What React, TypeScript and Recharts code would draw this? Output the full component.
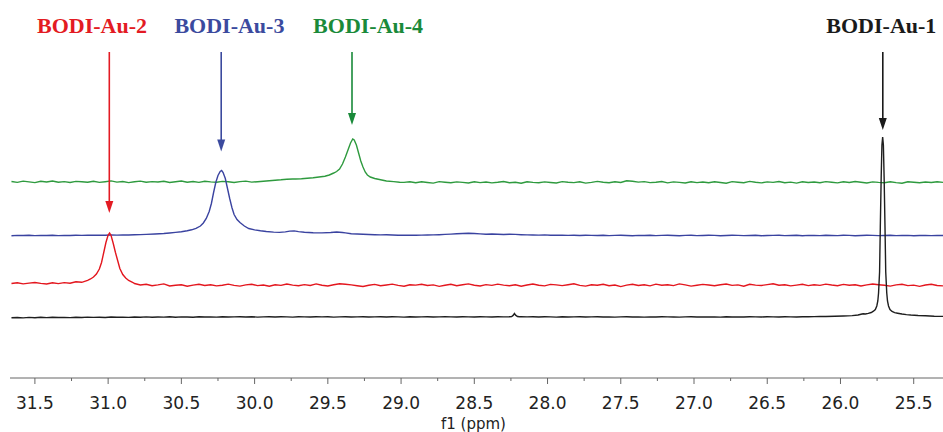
import React from 'react';
import { LineChart, Line, XAxis, YAxis, ReferenceLine, ReferenceDot, Label } from 'recharts';

// Shared chemical-shift sampling grid (ppm), 0.04 ppm steps
const GRID_PPM = [
  31.66, 31.62, 31.58, 31.54, 31.50, 31.46, 31.42, 31.38, 31.34, 31.30,
  31.26, 31.22, 31.18, 31.14, 31.10, 31.06, 31.02, 30.98, 30.94, 30.90,
  30.86, 30.82, 30.78, 30.74, 30.70, 30.66, 30.62, 30.58, 30.54, 30.50,
  30.46, 30.42, 30.38, 30.34, 30.30, 30.26, 30.22, 30.18, 30.14, 30.10,
  30.06, 30.02, 29.98, 29.94, 29.90, 29.86, 29.82, 29.78, 29.74, 29.70,
  29.66, 29.62, 29.58, 29.54, 29.50, 29.46, 29.42, 29.38, 29.34, 29.30,
  29.26, 29.22, 29.18, 29.14, 29.10, 29.06, 29.02, 28.98, 28.94, 28.90,
  28.86, 28.82, 28.78, 28.74, 28.70, 28.66, 28.62, 28.58, 28.54, 28.50,
  28.46, 28.42, 28.38, 28.34, 28.30, 28.26, 28.22, 28.18, 28.14, 28.10,
  28.06, 28.02, 27.98, 27.94, 27.90, 27.86, 27.82, 27.78, 27.74, 27.70,
  27.66, 27.62, 27.58, 27.54, 27.50, 27.46, 27.42, 27.38, 27.34, 27.30,
  27.26, 27.22, 27.18, 27.14, 27.10, 27.06, 27.02, 26.98, 26.94, 26.90,
  26.86, 26.82, 26.78, 26.74, 26.70, 26.66, 26.62, 26.58, 26.54, 26.50,
  26.46, 26.42, 26.38, 26.34, 26.30, 26.26, 26.22, 26.18, 26.14, 26.10,
  26.06, 26.02, 25.98, 25.94, 25.90, 25.86, 25.82, 25.78, 25.74, 25.70,
  25.66, 25.62, 25.58, 25.54, 25.50, 25.46, 25.42, 25.38, 25.34, 25.30,
];

// BODI-Au-2 (red) baseline intensities on the grid
const RED_BASE = [
  1.0, 1.8, 0.6, 1.4, 2.0, 1.1, 0.5, 1.7, 0.9, 1.9,
  1.3, 2.8, 2.2, 4.2, 7, 15, 38, 48, 24, 9,
  3.5, 1.0, -0.5, 0.3, -1.2, -0.4, 0.6, -1.5, -0.8, -0.2,
  -1.8, -0.6, 0.2, -1.0, -0.3, -1.4, -0.7, 0.4, -0.9, -1.6,
  -0.4, 0.3, -1.1, -0.5, -1.8, -0.2, -0.9, 0.5, -0.6, -1.3,
  -0.1, -1.0, 0.6, -0.7, -1.5, -0.3, 0.8, 0.2, -0.4, -1.2,
  -2.0, -0.8, 0.1, -1.3, -0.5, 0.4, -0.9, -1.7, -0.2, -0.6,
  0.3, -1.0, -0.4, -1.9, -0.7, 0.2, -1.2, -0.3, 0.6, -0.8,
  -1.5, -0.1, -0.9, 0.4, -0.6, -1.3, -0.2, -1.8, -0.5, 0.5,
  -0.7, -1.4, 0.1, -0.4, -1.1, -0.2, 0.7, -0.9, -1.6, -0.3,
  -0.8, 0.3, -1.2, -0.5, -2.1, -0.6, 0.2, -1.0, -0.3, -1.4,
  0.4, -0.7, -0.2, -1.1, 0.6, -0.4, -1.6, -0.8, 0.1, -0.5,
  -1.3, -0.2, 0.5, -0.9, -0.4, -1.7, 0.2, -0.6, -1.0, -0.1,
  0.7, -0.8, -0.3, -1.4, -0.6, 0.3, -1.1, -0.2, -0.9, 0.4,
  -0.5, -1.2, 0.1, -0.7, -0.3, -1.5, -0.4, 0.5, -0.2, -0.8,
  -1.6, -0.4, 0.2, -1.1, -0.6, -1.9, -0.5, 0.3, -1.0, -1.4,
];
const RED_PEAK: [number, number][] = [
  [31.12, 5.5], [31.10, 7.5], [31.08, 10.5], [31.06, 15.5], [31.045, 22], [31.03, 32],
  [31.015, 42], [31.0, 49.5], [30.99, 51.5], [30.98, 49], [30.965, 41], [30.95, 32],
  [30.935, 24], [30.92, 16], [30.90, 10], [30.88, 6.5], [30.86, 4], [30.83, 2],
];

// BODI-Au-3 (blue)
const BLUE_BASE = [
  -0.2, 0.1, 0.0, 0.2, -0.1, 0.1, 0.0, 0.2, -0.1, 0.1,
  0.0, 0.2, 0.1, 0.3, 0.2, 0.4, 0.3, 0.5, 0.4, 0.5,
  0.5, 0.7, 0.9, 1.1, 1.3, 1.6, 2.0, 2.5, 3.1, 3.8,
  4.7, 5.7, 8, 13, 22, 45, 64, 50, 28, 13,
  9, 6.5, 5, 4, 3.5, 3.2, 3.0, 3.5, 4.4, 4.0,
  3.0, 2.6, 2.5, 2.5, 2.8, 3.3, 3.4, 2.6, 1.8, 1.5,
  1.3, 1.0, 0.8, 0.6, 0.7, 0.5, 0.3, 0.4, 0.2, 0.3,
  0.4, 0.5, 0.6, 0.8, 1.1, 1.4, 1.7, 2.0, 2.2, 2.0,
  1.6, 1.3, 1.5, 1.2, 1.0, 1.3, 1.1, 0.8, 0.6, 0.5,
  0.4, 0.6, 0.3, 0.2, 0.4, 0.1, 0.3, 0.0, 0.2, 0.1,
  0.0, 0.2, -0.1, 0.1, 0.3, 0.0, -0.2, 0.1, 0.0, 0.2,
  -0.1, 0.1, 0.3, 0.0, -0.2, 0.1, 0.2, -0.1, 0.0, 0.2,
  0.1, -0.2, 0.0, 0.3, 0.1, -0.1, 0.0, 0.2, -0.2, 0.0,
  0.1, 0.3, -0.1, 0.0, 0.2, -0.2, 0.1, 0.0, -0.1, 0.2,
  0.0, -0.1, 0.2, 0.1, -0.2, 0.0, 0.3, 0.1, -0.1, 0.0,
  0.2, -0.1, 0.0, 0.1, -0.2, 0.0, 0.1, -0.1, 0.0, 0.0,
];
const BLUE_PEAK: [number, number][] = [
  [30.74, 1.1], [30.68, 1.5], [30.62, 2.0], [30.58, 2.5], [30.54, 3.1], [30.50, 3.8],
  [30.46, 4.7], [30.43, 5.7], [30.40, 7.2], [30.37, 9.5], [30.35, 12.5], [30.33, 17],
  [30.31, 24], [30.295, 32], [30.28, 43], [30.265, 53], [30.25, 60], [30.235, 64],
  [30.225, 65], [30.215, 63], [30.20, 57], [30.185, 47], [30.17, 37], [30.155, 28],
  [30.14, 21], [30.12, 16], [30.10, 13], [30.07, 9.5], [30.04, 7], [30.00, 5.6],
  [29.96, 4.7], [29.92, 4.0], [29.87, 3.4], [29.83, 3.1], [29.79, 3.6], [29.76, 4.4],
  [29.73, 4.6], [29.70, 3.9], [29.66, 3.2], [29.60, 2.8], [29.54, 2.6], [29.48, 3.0],
  [29.44, 3.5], [29.40, 3.0],
];

// BODI-Au-4 (green)
const GREEN_BASE = [
  0.5, -0.4, 0.9, 0.1, -0.6, 0.7, 0.0, 1.0, -0.3, 0.4,
  -0.5, 0.6, 0.2, -0.2, 0.8, -0.4, 0.3, 1.1, -0.1, 0.5,
  -0.6, 0.2, 0.9, -0.3, 0.4, 0.0, 0.7, -0.5, 0.3, 1.0,
  -0.2, 0.5, -0.4, 0.8, 0.1, -0.3, 0.6, 0.2, -0.5, 0.4,
  0.9, -0.1, 0.3, 0.7, 1.2, 1.8, 2.2, 2.8, 3.0, 3.2,
  3.5, 4, 5, 6, 7, 9, 14, 24, 40, 38,
  17, 6, 3.5, 2, 1, 0.3, -0.2, -0.4, 0.3, -0.8,
  0.2, -0.5, -1.1, 0.4, -0.2, -0.7, 0.1, -0.4, -1.0, 0.3,
  -0.6, 0.0, -0.9, -0.3, 0.5, -0.7, -0.2, -1.2, 0.2, -0.4,
  -0.8, 0.1, -0.5, -1.0, 0.4, -0.3, -0.6, 0.2, -1.1, -0.4,
  0.6, -0.2, -0.8, 0.3, -0.5, 1.2, 0.8, -0.1, 0.4, -0.6,
  -0.3, 0.5, -0.9, 0.1, -0.4, -1.0, 0.3, -0.6, 0.0, -0.8,
  0.2, -0.5, -1.2, 0.4, -0.2, -0.7, 0.6, -0.3, -0.9, 0.1,
  -0.4, 0.5, -0.8, -0.1, -1.1, 0.3, -0.5, 0.0, -0.7, 0.4,
  -0.2, -0.9, 0.2, -0.5, 0.5, -0.3, -1.0, 0.1, -0.4, -0.7,
  0.3, -0.6, -1.2, 0.2, -0.3, -0.8, 0.0, -0.5, 0.2, -0.4,
];
const GREEN_PEAK: [number, number][] = [
  [29.72, 3.0], [29.68, 3.3], [29.64, 3.8], [29.60, 4.2], [29.56, 5.0], [29.52, 5.8],
  [29.49, 7.0], [29.46, 9.0], [29.44, 10.5], [29.42, 13], [29.40, 18], [29.38, 25],
  [29.36, 33], [29.345, 39], [29.33, 43], [29.32, 42], [29.305, 37], [29.29, 29],
  [29.275, 21], [29.26, 15], [29.245, 10], [29.23, 7], [29.21, 5], [29.18, 3.5],
  [29.14, 2.2], [29.10, 1.0], [29.05, 0.4], [29.01, -0.2],
];

// BODI-Au-1 (black)
const BLACK_BASE = [
  -0.8, -0.5, -0.9, -0.4, -0.7, -0.3, -0.6, -0.2, -0.5, -0.4,
  -0.6, -0.3, -0.5, -0.1, -0.4, -0.2, -0.5, 0.0, -0.3, -0.1,
  -0.4, 0.0, -0.2, 0.1, -0.3, 0.0, -0.1, 0.2, -0.2, 0.1,
  0.0, -0.2, 0.2, 0.0, 0.1, -0.1, 0.2, 0.0, 0.1, 0.3,
  0.0, 0.2, -0.1, 0.1, 0.3, 0.0, 0.2, 0.1, -0.1, 0.2,
  0.1, 0.0, 0.3, 0.1, 0.2, -0.1, 0.1, 0.2, 0.0, 0.1,
  0.2, 0.0, 0.1, 0.3, 0.0, 0.2, 0.1, -0.1, 0.2, 0.0,
  0.1, 0.2, 0.0, 0.1, 0.3, 0.1, 0.0, 0.2, 0.1, 0.0,
  0.2, 0.1, 0.0, 0.3, 0.1, 0.2, 3.0, 0.3, 0.1, 0.2,
  0.0, 0.2, 0.1, -0.1, 0.2, 0.0, 0.1, 0.2, 0.0, 0.1,
  0.2, 0.0, 0.1, -0.1, 0.1, 0.2, 0.0, 0.1, -0.1, 0.1,
  0.0, 0.2, 0.1, 0.0, -0.1, 0.1, 0.2, 0.0, 0.1, 0.0,
  0.1, -0.1, 0.2, 0.0, 0.1, 0.0, 0.2, 0.1, 0.0, 0.2,
  0.1, 0.0, 0.2, 0.1, 0.0, 0.3, 0.2, 0.4, 0.5, 0.5,
  0.7, 0.8, 1.0, 1.3, 1.6, 2.4, 3.6, 5.5, 12, 170,
  7, 4.5, 3.4, 2.5, 1.8, 1.4, 1.1, 0.8, 0.5, 0.4,
];
const BLACK_BUMP: [number, number][] = [
  [28.26, 0.2], [28.245, 0.5], [28.235, 1.6], [28.226, 3.5], [28.218, 1.8], [28.205, 0.5], [28.19, 0.2],
];
const BLACK_PEAK: [number, number][] = [
  [26.10, 0.5], [26.04, 0.7], [25.98, 1.0], [25.92, 1.4], [25.88, 2.0], [25.86, 2.8],
  [25.845, 3.2], [25.83, 3.0], [25.81, 3.6], [25.79, 4.5], [25.775, 5.8], [25.762, 7.5],
  [25.752, 11], [25.745, 16], [25.74, 24], [25.733, 45], [25.728, 90], [25.722, 140],
  [25.717, 172], [25.712, 180], [25.707, 172], [25.702, 140], [25.696, 90], [25.691, 45],
  [25.684, 24], [25.679, 16], [25.672, 11], [25.662, 7.5], [25.648, 5.5], [25.63, 4.4],
  [25.61, 3.8], [25.58, 3.0], [25.55, 2.4], [25.52, 2.0], [25.47, 1.5], [25.42, 1.2],
  [25.36, 0.8], [25.30, 0.6],
];

const MAJOR_TICKS = [31.5, 31.0, 30.5, 30.0, 29.5, 29.0, 28.5, 28.0, 27.5, 27.0, 26.5, 26.0, 25.5];
const TICK_LABELS = ['31.5', '31.0', '30.5', '30.0', '29.5', '29.0', '28.5', '28.0', '27.5', '27.0', '26.5', '26.0', '25.5'];
const MINOR_TICKS = [31.25, 30.75, 30.25, 29.75, 29.25, 28.75, 28.25, 27.75, 27.25, 26.75, 26.25, 25.75];

const SERIES_NAMES = ['BODI-Au-1', 'BODI-Au-2', 'BODI-Au-3', 'BODI-Au-4'];

// ---------- layout / style ----------
const W = 943;
const H = 432;
const AXIS_H = 54;
const Y_MAX = H - AXIS_H; // plot height in px, 1 unit = 1 px

const build = (base: number[], details: [number, number][][], offset: number) => {
  const ranges = details.map((d) => [Math.min(...d.map((p) => p[0])), Math.max(...d.map((p) => p[0]))]);
  const pts: [number, number][] = [];
  const n = Math.min(GRID_PPM.length, base.length);
  for (let i = 0; i < n; i++) {
    const p = GRID_PPM[i];
    if (ranges.some(([lo, hi]) => p >= lo - 1e-9 && p <= hi + 1e-9)) continue;
    pts.push([p, base[i]]);
  }
  details.forEach((d) => d.forEach((p) => pts.push(p)));
  pts.sort((a, b) => b[0] - a[0]);
  return pts.map(([ppm, v]) => ({ ppm, v: offset + v }));
};

const maxOf = (d: [number, number][]) => Math.max(...d.map((p) => p[1]));

const TRACES = [
  { key: 'green', name: SERIES_NAMES[3], color: '#2e9a3e', labelColor: '#1a8a3a', offset: 196, base: GREEN_BASE, details: [GREEN_PEAK], peak: GREEN_PEAK, arrowPpm: 29.335, gap: 14, labelPpm: 29.225 },
  { key: 'blue', name: SERIES_NAMES[2], color: '#3a43a0', labelColor: '#3b4a9e', offset: 142.5, base: BLUE_BASE, details: [BLUE_PEAK], peak: BLUE_PEAK, arrowPpm: 30.228, gap: 19, labelPpm: 30.172 },
  { key: 'red', name: SERIES_NAMES[1], color: '#e3161e', labelColor: '#e31b23', offset: 93.5, base: RED_BASE, details: [RED_PEAK], peak: RED_PEAK, arrowPpm: 30.992, gap: 20, labelPpm: 31.11 },
  { key: 'black', name: SERIES_NAMES[0], color: '#1e1e1e', labelColor: '#1a1a1a', offset: 61, base: BLACK_BASE, details: [BLACK_BUMP, BLACK_PEAK], peak: BLACK_PEAK, arrowPpm: 25.711, gap: 7, labelPpm: 25.721 },
];

const ARROW_TOP = Y_MAX - 52;
const LABEL_Y = Y_MAX - 33;

const Tick = (props: any) => {
  const { x, y, payload } = props;
  const v = payload.value;
  const idx = MAJOR_TICKS.findIndex((m) => Math.abs(m - v) < 1e-6);
  const major = idx >= 0;
  return (
    <g>
      <line x1={x} y1={y} x2={x} y2={y + (major ? 6 : 3)} stroke="#666" strokeWidth={1} />
      {major && (
        <text x={x} y={y + 31} textAnchor="middle" fontFamily="'DejaVu Sans', Verdana, sans-serif" fontSize={17} fill="#222">
          {TICK_LABELS[idx]}
        </text>
      )}
    </g>
  );
};

const arrowShape = (color: string) => (p: any) => {
  const x = p.x1;
  const top = Math.min(p.y1, p.y2);
  const tip = Math.max(p.y1, p.y2);
  return (
    <g>
      <line x1={x} y1={top} x2={x} y2={tip - 8} stroke={color} strokeWidth={1.6} />
      <polygon points={`${x - 4},${tip - 12} ${x + 4},${tip - 12} ${x},${tip}`} fill={color} />
    </g>
  );
};

const labelShape = (text: string, color: string) => (p: any) => (
  <text
    x={p.cx}
    y={p.cy}
    textAnchor="middle"
    fontFamily="'Liberation Serif', 'Times New Roman', serif"
    fontWeight="bold"
    fontSize={22}
    fill={color}
  >
    {text}
  </text>
);

export default function App() {
  const series = TRACES.map((t) => ({ ...t, data: build(t.base, t.details, t.offset) }));
  return (
    <div style={{ position: 'absolute', left: 0, top: 0, width: W, height: H, background: '#fff' }}>
      <LineChart width={W} height={H} margin={{ top: 0, right: 0, bottom: 0, left: 10 }}>
        <XAxis
          type="number"
          dataKey="ppm"
          domain={[25.3, 31.67]}
          reversed
          allowDataOverflow
          ticks={[...MAJOR_TICKS, ...MINOR_TICKS].sort((a, b) => b - a)}
          interval={0}
          tick={<Tick />}
          tickLine={false}
          tickSize={0}
          tickMargin={0}
          height={AXIS_H}
          axisLine={{ stroke: '#666', strokeWidth: 1 }}
        >
          <Label
            value="f1 (ppm)"
            position="insideBottom"
            offset={3.5}
            dx={-3}
            fill="#222"
            fontSize={15}
            fontFamily="'DejaVu Sans', Verdana, sans-serif"
          />
        </XAxis>
        <YAxis hide type="number" domain={[0, Y_MAX]} allowDataOverflow width={0} />
        {series.map((s) => (
          <Line
            key={s.key}
            data={s.data}
            dataKey="v"
            type="linear"
            stroke={s.color}
            strokeWidth={1.4}
            dot={false}
            activeDot={false}
            isAnimationActive={false}
          />
        ))}
        {series.map((s) => (
          <ReferenceLine
            key={'a' + s.key}
            segment={[
              { x: s.arrowPpm, y: ARROW_TOP },
              { x: s.arrowPpm, y: s.offset + maxOf(s.peak) + s.gap },
            ]}
            stroke={s.color}
            ifOverflow="visible"
            shape={arrowShape(s.labelColor)}
          />
        ))}
        {series.map((s) => (
          <ReferenceDot
            key={'l' + s.key}
            x={s.labelPpm}
            y={LABEL_Y}
            ifOverflow="visible"
            shape={labelShape(s.name, s.labelColor)}
          />
        ))}
      </LineChart>
    </div>
  );
}
